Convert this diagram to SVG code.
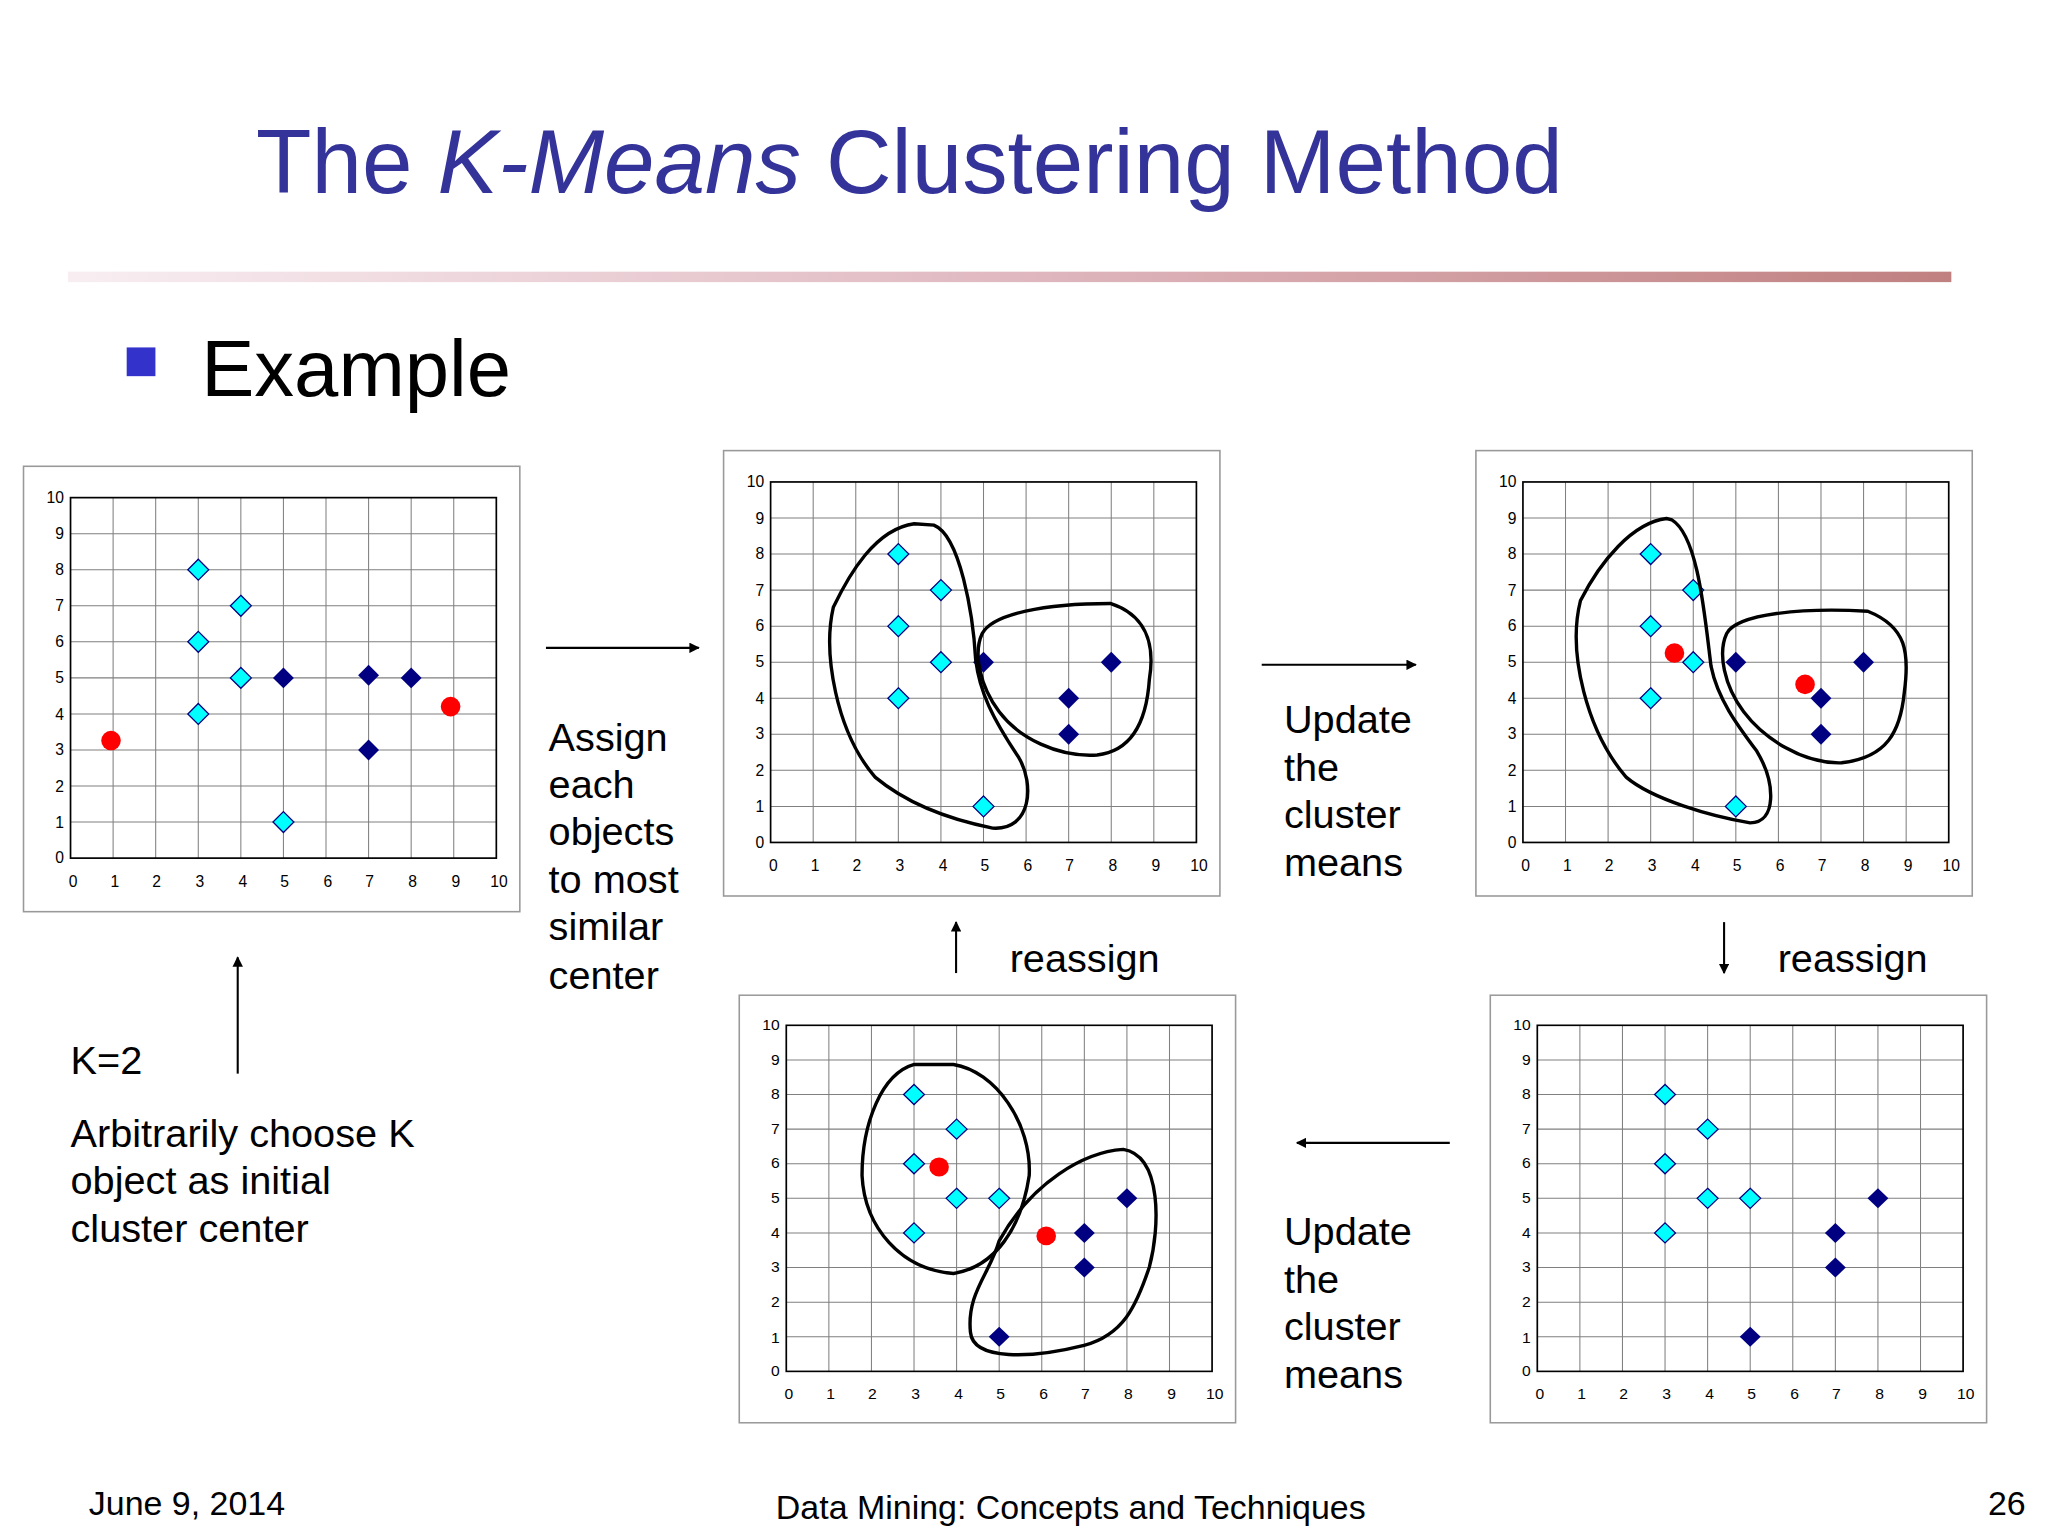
<svg xmlns="http://www.w3.org/2000/svg" xmlns:xlink="http://www.w3.org/1999/xlink" width="2048" height="1536" viewBox="0 0 2048 1536">
<style>
text{font-family:"Liberation Sans",Arial,sans-serif;fill:#000}
.t{font-size:30.4px}
.tk{font-size:12px}
.g{stroke:#808080;stroke-width:0.8}
.ax{fill:none;stroke:#000;stroke-width:1.3}
.fr{fill:#fff;stroke:#999;stroke-width:1.2}
.blob{fill:none;stroke:#000;stroke-width:2.6}
.arr{stroke:#000;stroke-width:1.6;fill:none;marker-end:url(#ah)}
</style>
<defs>
<marker id="ah" viewBox="0 0 10 10" refX="9" refY="5" markerWidth="8" markerHeight="8" orient="auto" markerUnits="userSpaceOnUse"><path d="M0,0L10,5L0,10Z" fill="#000"/></marker>
<path id="dc" d="M0,-8L8,0L0,8L-8,0Z" fill="#00FFFF" stroke="#000080" stroke-width="1"/>
<path id="dn" d="M0,-8L8,0L0,8L-8,0Z" fill="#000080"/>
<circle id="rc" r="7.5" fill="#FF0000"/>
<linearGradient id="rule" x1="0" x2="1"><stop offset="0" stop-color="#f8eef2"/><stop offset="0.5" stop-color="#e0b8c0"/><stop offset="1" stop-color="#c08080"/></linearGradient>
<g id="grid">
<rect class="fr" x="-36" y="-24" width="380" height="341"/>
<path class="g" d="M32.6,0V276M65.2,0V276M97.8,0V276M130.4,0V276M163,0V276M195.6,0V276M228.2,0V276M260.8,0V276M293.4,0V276M0,27.6H326M0,55.2H326M0,82.8H326M0,110.4H326M0,138H326M0,165.6H326M0,193.2H326M0,220.8H326M0,248.4H326"/>
<rect class="ax" x="0" y="0" width="326" height="276"/>
<g class="tk" text-anchor="end"><text x="-5" y="4">10</text><text x="-5" y="32">9</text><text x="-5" y="59">8</text><text x="-5" y="87">7</text><text x="-5" y="114">6</text><text x="-5" y="142">5</text><text x="-5" y="170">4</text><text x="-5" y="197">3</text><text x="-5" y="225">2</text><text x="-5" y="253">1</text><text x="-5" y="280">0</text></g>
<g class="tk" text-anchor="middle"><text x="2" y="298">0</text><text x="34" y="298">1</text><text x="66" y="298">2</text><text x="99" y="298">3</text><text x="132" y="298">4</text><text x="164" y="298">5</text><text x="197" y="298">6</text><text x="229" y="298">7</text><text x="262" y="298">8</text><text x="295" y="298">9</text><text x="328" y="298">10</text></g>
</g>
</defs>
<rect width="2048" height="1536" fill="#fff"/>
<g transform="scale(1.30612)">
<g id="title">
<text x="196" y="148" style="font-size:69.5px;fill:#333399">The <tspan font-style="italic">K-Means</tspan> Clustering Method</text>
<rect x="52" y="208" width="1442" height="8" fill="url(#rule)"/>
</g>
<g id="bullet">
<rect x="97" y="266" width="22" height="22" fill="#3333CC"/>
<text x="154" y="303" style="font-size:61px">Example</text>
</g>
<g id="plot1" transform="translate(54,381)">
<use xlink:href="#grid"/>
<use xlink:href="#dc" x="97.8" y="55.2"/><use xlink:href="#dc" x="130.4" y="82.8"/><use xlink:href="#dc" x="97.8" y="110.4"/><use xlink:href="#dc" x="130.4" y="138"/><use xlink:href="#dc" x="97.8" y="165.6"/><use xlink:href="#dc" x="163" y="248.4"/>
<use xlink:href="#dn" x="163" y="138"/><use xlink:href="#dn" x="228.2" y="136"/><use xlink:href="#dn" x="260.8" y="138"/><use xlink:href="#dn" x="228.2" y="193.2"/>
<use xlink:href="#rc" x="31" y="186"/><use xlink:href="#rc" x="291" y="160"/>
</g>
<g id="plot2" transform="translate(590,369)">
<use xlink:href="#grid"/>
<use xlink:href="#dc" x="97.8" y="55.2"/><use xlink:href="#dc" x="130.4" y="82.8"/><use xlink:href="#dc" x="97.8" y="110.4"/><use xlink:href="#dc" x="130.4" y="138"/><use xlink:href="#dc" x="97.8" y="165.6"/><use xlink:href="#dc" x="163" y="248.4"/>
<use xlink:href="#dn" x="163" y="138"/><use xlink:href="#dn" x="228.2" y="165.6"/><use xlink:href="#dn" x="260.8" y="138"/><use xlink:href="#dn" x="228.2" y="193.2"/>
</g>
<g id="plot3" transform="translate(1166,369)">
<use xlink:href="#grid"/>
<use xlink:href="#dc" x="97.8" y="55.2"/><use xlink:href="#dc" x="130.4" y="82.8"/><use xlink:href="#dc" x="97.8" y="110.4"/><use xlink:href="#dc" x="130.4" y="138"/><use xlink:href="#dc" x="97.8" y="165.6"/><use xlink:href="#dc" x="163" y="248.4"/>
<use xlink:href="#dn" x="163" y="138"/><use xlink:href="#dn" x="228.2" y="165.6"/><use xlink:href="#dn" x="260.8" y="138"/><use xlink:href="#dn" x="228.2" y="193.2"/>
<use xlink:href="#rc" x="116" y="131"/><use xlink:href="#rc" x="216" y="155"/>
</g>
<g id="plot4" transform="translate(602,785) scale(1,0.96)">
<use xlink:href="#grid"/>
<use xlink:href="#dc" x="97.8" y="55.2"/><use xlink:href="#dc" x="130.4" y="82.8"/><use xlink:href="#dc" x="97.8" y="110.4"/><use xlink:href="#dc" x="130.4" y="138"/><use xlink:href="#dc" x="163" y="138"/><use xlink:href="#dc" x="97.8" y="165.6"/>
<use xlink:href="#dn" x="260.8" y="138"/><use xlink:href="#dn" x="228.2" y="165.6"/><use xlink:href="#dn" x="228.2" y="193.2"/><use xlink:href="#dn" x="163" y="248.4"/>
<use xlink:href="#rc" x="117" y="113"/><use xlink:href="#rc" x="199" y="168"/>
</g>
<g id="plot5" transform="translate(1177,785) scale(1,0.96)">
<use xlink:href="#grid"/>
<use xlink:href="#dc" x="97.8" y="55.2"/><use xlink:href="#dc" x="130.4" y="82.8"/><use xlink:href="#dc" x="97.8" y="110.4"/><use xlink:href="#dc" x="130.4" y="138"/><use xlink:href="#dc" x="163" y="138"/><use xlink:href="#dc" x="97.8" y="165.6"/>
<use xlink:href="#dn" x="260.8" y="138"/><use xlink:href="#dn" x="228.2" y="165.6"/><use xlink:href="#dn" x="228.2" y="193.2"/><use xlink:href="#dn" x="163" y="248.4"/>
</g>
<g id="clusters">
<path class="blob" d="M700,401 C670,405 650,440 638,465 C630,500 640,560 670,595 C700,620 740,630 760,634 C790,636 792,600 780,580 C760,550 750,530 747,505 C745,470 735,410 715,402 Z"/>
<path class="blob" d="M752,485 C760,470 800,462 850,462 C875,470 885,490 880,520 C878,550 868,575 840,578 C810,580 780,565 765,545 C750,525 745,500 752,485 Z"/>
<path class="blob" d="M1276,397 C1250,400 1225,430 1210,460 C1200,500 1215,560 1245,595 C1265,612 1310,625 1340,630 C1360,630 1360,600 1345,575 C1330,555 1315,535 1310,510 C1305,470 1300,410 1280,398 Z"/>
<path class="blob" d="M1322,485 C1330,470 1380,465 1430,468 C1460,480 1462,500 1458,530 C1455,560 1445,580 1410,584 C1380,585 1350,565 1335,545 C1320,525 1315,500 1322,485 Z"/>
<path class="blob" d="M700,815 C675,822 660,860 660,900 C662,940 690,972 730,975 C762,970 782,940 788,900 C790,860 762,820 730,815 Z"/>
<path class="blob" d="M765,950 C790,905 830,882 860,880 C890,885 888,940 880,970 C870,1000 860,1022 830,1030 C790,1040 745,1042 743,1020 C740,990 758,975 765,950 Z"/>
</g>
<g id="connectors">
<path class="arr" d="M418,496H535"/>
<path class="arr" d="M182,822V733"/>
<path class="arr" d="M966,509H1084"/>
<path class="arr" d="M1320,706V745"/>
<path class="arr" d="M1110,875H993"/>
<path class="arr" d="M732,745V706"/>
</g>
<g id="labels" class="t">
<text x="420" y="575">Assign</text><text x="420" y="611">each</text><text x="420" y="647">objects</text><text x="420" y="684">to most</text><text x="420" y="720">similar</text><text x="420" y="757">center</text>
<text x="983" y="561">Update</text><text x="983" y="598">the</text><text x="983" y="634">cluster</text><text x="983" y="671">means</text>
<text x="983" y="953">Update</text><text x="983" y="990">the</text><text x="983" y="1026">cluster</text><text x="983" y="1063">means</text>
<text x="773" y="744">reassign</text><text x="1361" y="744">reassign</text>
<text x="54" y="822">K=2</text>
<text x="54" y="878">Arbitrarily choose K</text><text x="54" y="914">object as initial</text><text x="54" y="951">cluster center</text>
</g>
<g id="footer" style="font-size:26px">
<text x="68" y="1160">June 9, 2014</text>
<text x="594" y="1163">Data Mining: Concepts and Techniques</text>
<text x="1522" y="1160">26</text>
</g>
</g>
</svg>
